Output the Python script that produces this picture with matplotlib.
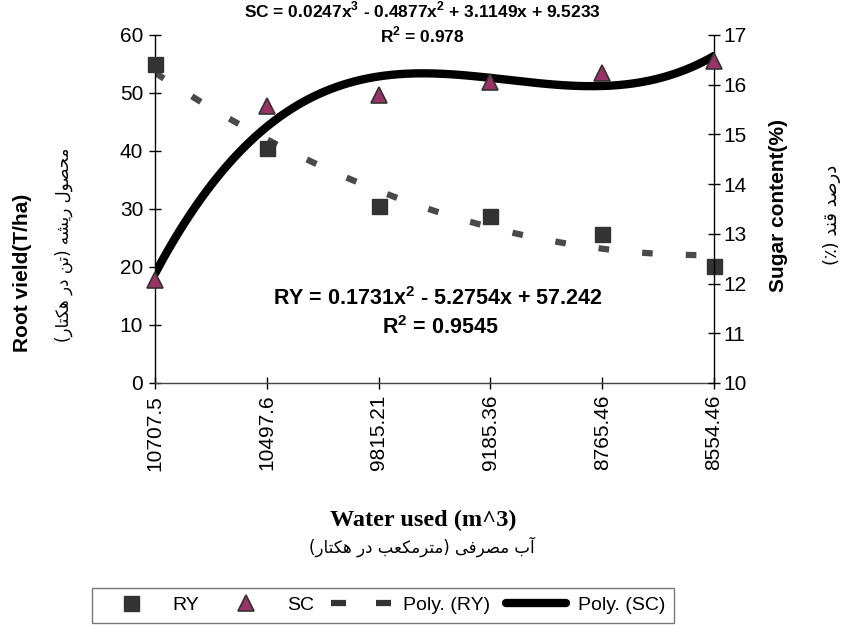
import numpy as np
import matplotlib
matplotlib.use('Agg')
import matplotlib.pyplot as plt
from matplotlib import font_manager
from matplotlib.ft2font import FT2Font
from matplotlib.lines import Line2D

# data
water = ['10707.5', '10497.6', '9815.21', '9185.36', '8765.46', '8554.46']
ry = [55.0, 40.5, 30.5, 28.8, 25.7, 20.2]
sc = [12.07, 15.57, 15.79, 16.06, 16.24, 16.48]

ry_eq = r'RY = 0.1731x$^{\mathbf{2}}$ - 5.2754x + 57.242'
ry_r2 = r'R$^{\mathbf{2}}$ = 0.9545'
sc_eq = r'SC = 0.0247x$^{\mathbf{3}}$ - 0.4877x$^{\mathbf{2}}$ + 3.1149x + 9.5233'
sc_r2 = r'R$^{\mathbf{2}}$ = 0.978'

fa_left = 'محصول ریشه (تن در هکتار)'
fa_right = 'درصد قند (٪)'
fa_bottom = 'آب مصرفی (مترمکعب در هکتار)'

plt.rcParams['font.family'] = ['Liberation Sans', 'DejaVu Sans']
plt.rcParams['mathtext.fontset'] = 'custom'
plt.rcParams['mathtext.rm'] = 'Liberation Sans'
plt.rcParams['mathtext.bf'] = 'Liberation Sans:bold'

# matplotlib does no arabic shaping, so do a small one here
RIGHT = {'ا': (0xFE8D, 0xFE8E), 'آ': (0xFE81, 0xFE82), 'د': (0xFEA9, 0xFEAA),
         'ر': (0xFEAD, 0xFEAE), 'و': (0xFEED, 0xFEEE)}
DUAL = {'ب': (0xFE8F, 0xFE90, 0xFE91, 0xFE92), 'ت': (0xFE95, 0xFE96, 0xFE97, 0xFE98),
        'ح': (0xFEA1, 0xFEA2, 0xFEA3, 0xFEA4), 'ش': (0xFEB5, 0xFEB6, 0xFEB7, 0xFEB8),
        'ص': (0xFEB9, 0xFEBA, 0xFEBB, 0xFEBC), 'ع': (0xFEC9, 0xFECA, 0xFECB, 0xFECC),
        'ف': (0xFED1, 0xFED2, 0xFED3, 0xFED4), 'ق': (0xFED5, 0xFED6, 0xFED7, 0xFED8),
        'ل': (0xFEDD, 0xFEDE, 0xFEDF, 0xFEE0), 'م': (0xFEE1, 0xFEE2, 0xFEE3, 0xFEE4),
        'ن': (0xFEE5, 0xFEE6, 0xFEE7, 0xFEE8), 'ه': (0xFEE9, 0xFEEA, 0xFEEB, 0xFEEC),
        'ک': (0xFB8E, 0xFB8F, 0xFB90, 0xFB91), 'ی': (0xFBFC, 0xFBFD, 0xFBFE, 0xFBFF)}
FALLBACK = {'ک': (0xFED9, 0xFEDA, 0xFEDB, 0xFEDC), 'ی': (0xFEEF, 0xFEF0, 0xFEF3, 0xFEF4)}

cmap = FT2Font(font_manager.findfont('DejaVu Sans')).get_charmap()


def shape_fa(text):
    out = []
    for i, ch in enumerate(text):
        if ch in DUAL or ch in RIGHT:
            prev = text[i - 1] if i > 0 else ''
            nxt = text[i + 1] if i < len(text) - 1 else ''
            jp = prev in DUAL
            jn = ch in DUAL and (nxt in DUAL or nxt in RIGHT)
            forms = DUAL.get(ch) or RIGHT[ch]
            if jp and jn:
                k = 3
            elif jp:
                k = 1
            elif jn:
                k = 2
            else:
                k = 0
            code = forms[k]
            if code not in cmap and ch in FALLBACK:
                code = FALLBACK[ch][k]
            out.append(chr(code) if code in cmap else ch)
        else:
            out.append(ch)
    vis = ''.join(reversed(out))
    return vis.translate(str.maketrans('()', ')('))


W, H = 847, 625
fig = plt.figure(figsize=(W / 100, H / 100), dpi=100)
ax = fig.add_axes([155 / W, 1 - 383 / H, (714 - 155) / W, (383 - 35) / H])
ax2 = ax.twinx()

xs = np.arange(1, len(water) + 1)
xx = np.linspace(1, len(water), 300)

ry_fit = np.polyfit(xs, ry, 2)
sc_fit = np.polyfit(xs, sc, 3)

dash_col = '#4a4a4a'
ax.plot(xx, np.polyval(ry_fit, xx), color=dash_col, lw=4.5, dashes=(1.7, 5.3), zorder=2)
ax.plot(xs, ry, ls='none', marker='s', ms=10.8, mfc='#333333', mec='#333333', zorder=3,
        clip_on=False)

ax2.plot(xx, np.polyval(sc_fit, xx), color='black', lw=6, solid_capstyle='round', zorder=2)
ax2.plot(xs, sc, ls='none', marker='^', ms=11.5, mfc='#993366', mec='#333333', mew=1.2,
         zorder=3, clip_on=False)

ax.set_xlim(1, len(water))
ax.set_ylim(0, 60)
ax.set_yticks(np.arange(0, 61, 10))
ax.set_xticks(xs)
ax.set_xticklabels(water, rotation=90)
ax2.set_ylim(10, 17)
ax2.set_yticks(np.arange(10, 18, 1))

for a in (ax, ax2):
    a.spines['top'].set_visible(False)
    for s in a.spines.values():
        s.set_linewidth(1.0)
        s.set_color('black')
ax.spines['bottom'].set_color('#444444')
ax.spines['right'].set_visible(False)
ax2.spines['left'].set_visible(False)
ax2.spines['bottom'].set_visible(False)

ax.tick_params(axis='y', direction='inout', length=9, width=1, labelsize=15, pad=4)
ax.tick_params(axis='x', direction='inout', length=9, width=1, labelsize=15, pad=4)
ax2.tick_params(axis='y', direction='inout', length=9, width=1, labelsize=15, pad=2)

# equations
fig.text(422 / W, 1 - 17 / H, sc_eq, ha='center', va='baseline', fontsize=12.5, fontweight='bold')
fig.text(422 / W, 1 - 42 / H, sc_r2, ha='center', va='baseline', fontsize=12.5, fontweight='bold')
fig.text(438 / W, 1 - 305 / H, ry_eq, ha='center', va='baseline', fontsize=15.5, fontweight='bold')
fig.text(440 / W, 1 - 334 / H, ry_r2, ha='center', va='baseline', fontsize=15.5, fontweight='bold')

# axis titles
fig.text(22 / W, 1 - 273 / H, 'Root vield(T/ha)', rotation=90, ha='center', va='center',
         fontsize=15, fontweight='bold')
fig.text(64 / W, 1 - 245 / H, shape_fa(fa_left), rotation=90, ha='center', va='center',
         fontsize=12, family=['DejaVu Sans'])
fig.text(778 / W, 1 - 205 / H, 'Sugar content(%)', rotation=90, ha='center', va='center',
         fontsize=15, fontweight='bold')
fig.text(832 / W, 1 - 215 / H, shape_fa(fa_right), rotation=90, ha='center', va='center',
         fontsize=13, family=['DejaVu Sans'])
fig.text(423 / W, 1 - 520 / H, 'Water used (m^3)', ha='center', va='center',
         fontsize=17.5, fontweight='bold', family=['Liberation Serif'])
fig.text(422 / W, 1 - 547 / H, shape_fa(fa_bottom), ha='center', va='center',
         fontsize=12, family=['DejaVu Sans'])

handles = [
    Line2D([], [], ls='none', marker='s', ms=10.8, mfc='#333333', mec='#333333'),
    Line2D([], [], ls='none', marker='^', ms=11.5, mfc='#993366', mec='#333333', mew=1.2),
    Line2D([], [], color='#333333', lw=4.5, dashes=(2.4, 4.8)),
    Line2D([], [], color='black', lw=6, solid_capstyle='round'),
]
labels = ['RY', 'SC', 'Poly. (RY)', 'Poly. (SC)']
leg = fig.legend(handles, labels, loc='lower center', bbox_to_anchor=(383 / W, 2 / H), ncol=4,
                 fontsize=14, frameon=True, fancybox=False, edgecolor='#555555',
                 handlelength=3.1, handletextpad=0.6, columnspacing=0.83, borderpad=0.45,
                 borderaxespad=0)
leg.get_frame().set_linewidth(1.0)

fig.savefig('out.png', dpi=100, facecolor='white')
